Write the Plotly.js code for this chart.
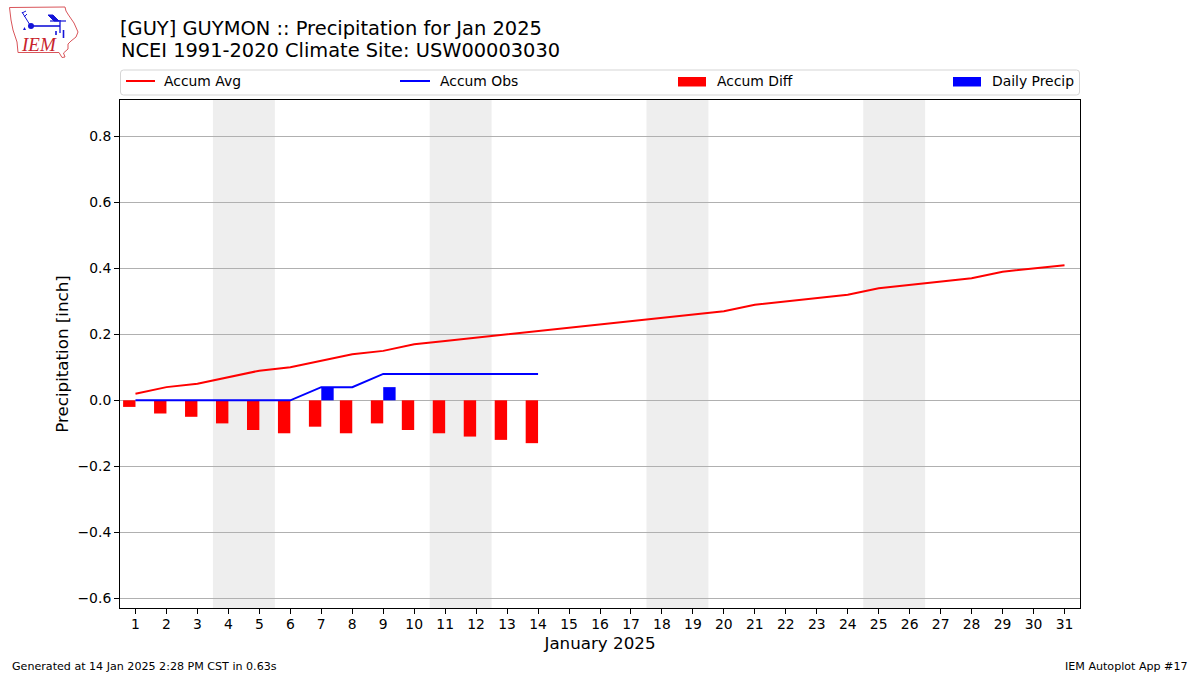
<!DOCTYPE html>
<html>
<head>
<meta charset="utf-8">
<script src="https://cdn.plot.ly/plotly-3.0.1.min.js"></script>
<style>html,body{margin:0;padding:0;background:#fff}</style>
</head>
<body>
<div id="chart" style="width:1200px;height:675px"></div>
<script>
const days = [1,2,3,4,5,6,7,8,9,10,11,12,13,14,15,16,17,18,19,20,21,22,23,24,25,26,27,28,29,30,31];
const obsDays = [1,2,3,4,5,6,7,8,9,10,11,12,13,14];
const accumAvg = [0.02,0.04,0.05,0.07,0.09,0.10,0.12,0.14,0.15,0.17,0.18,0.19,0.20,0.21,0.22,0.23,0.24,0.25,0.26,0.27,0.29,0.30,0.31,0.32,0.34,0.35,0.36,0.37,0.39,0.40,0.41];
const accumObs = [0,0,0,0,0,0,0.04,0.04,0.08,0.08,0.08,0.08,0.08,0.08];
const accumDiff = [-0.02,-0.04,-0.05,-0.07,-0.09,-0.10,-0.08,-0.10,-0.07,-0.09,-0.10,-0.11,-0.12,-0.13];
const dailyPrecip = [0,0,0,0,0,0,0.04,0,0.04,0,0,0,0,0];
const weekends = [[3.5,5.5],[10.5,12.5],[17.5,19.5],[24.5,26.5]];
const yTicks = [-0.6,-0.4,-0.2,0,0.2,0.4,0.6,0.8];
const yTickText = ['\u22120.6','\u22120.4','\u22120.2','0.0','0.2','0.4','0.6','0.8'];
const legendLabels = ['Accum Avg','Accum Obs','Accum Diff','Daily Precip'];
const legendColors = ['#ff0000','#0000ff','#ff0000','#0000ff'];

const FONT = 'DejaVu Sans, sans-serif';
const PX = v => (v-120)/960;       // page px -> paper x
const PY = v => (608-v)/508;       // page px -> paper y

const logoSvg = `<svg xmlns="http://www.w3.org/2000/svg" width="80" height="60" viewBox="0 0 80 60">
<path d="M9.5 7.5 L65 7 L66 11 L68.5 15 L74 23 L78 32 L76 37 L71 41 L68 44 L68 49 L63.5 53 L65 57 L62 57.5 L59 52.5 L18 52.5 L17 42 L13 30 L11 20 Z" fill="none" stroke="#d9555a" stroke-width="1"/>
<g stroke="#1414d8" fill="none">
<path d="M31 26 H60" stroke-width="1.6"/>
<path d="M60 20 V33" stroke-width="1.3"/>
<path d="M50 21 H66" stroke-width="1.2"/>
<path d="M30 25 L22 12" stroke-width="1"/><path d="M22 13 L26 11 M24 17 L27 14" stroke-width="1"/>
<path d="M48 15 L53 15 L59 21 L54 21 Z" fill="#1414d8" stroke-width="1"/>
<path d="M56 31 V35 M63.5 30 V38" stroke-width="1.6"/>
</g>
<circle cx="31" cy="26" r="3" fill="#1414d8"/>
<path d="M23 30 l1.5 -3 l1.5 3 z" fill="#1414d8"/>
</svg>`;

const traces = [
  {type:'scatter', mode:'lines', name:legendLabels[0], x:days, y:accumAvg, line:{color:legendColors[0],width:2}},
  {type:'scatter', mode:'lines', name:legendLabels[1], x:obsDays, y:accumObs, line:{color:legendColors[1],width:2}},
  {type:'bar', name:legendLabels[2], x:obsDays, y:accumDiff, width:0.4, offset:-0.4, marker:{color:legendColors[2],line:{width:0}}},
  {type:'bar', name:legendLabels[3], x:obsDays, y:dailyPrecip, width:0.4, offset:0, marker:{color:legendColors[3],line:{width:0}}}
];

// rounded legend frame
const bx0=PX(120.5), bx1=PX(1079.5), by0=PY(95), by1=PY(70);
const rx=3/960, ry=3/508;
const framePath = `M ${bx0+rx} ${by1} L ${bx1-rx} ${by1} Q ${bx1} ${by1} ${bx1} ${by1-ry} L ${bx1} ${by0+ry} Q ${bx1} ${by0} ${bx1-rx} ${by0} L ${bx0+rx} ${by0} Q ${bx0} ${by0} ${bx0} ${by0+ry} L ${bx0} ${by1-ry} Q ${bx0} ${by1} ${bx0+rx} ${by1} Z`;

const swatches = [
  {type:'line', xref:'paper', yref:'paper', x0:PX(126), x1:PX(155), y0:PY(81), y1:PY(81), line:{color:legendColors[0],width:2}},
  {type:'line', xref:'paper', yref:'paper', x0:PX(400), x1:PX(430), y0:PY(81), y1:PY(81), line:{color:legendColors[1],width:2}},
  {type:'rect', xref:'paper', yref:'paper', x0:PX(678), x1:PX(706), y0:PY(86.5), y1:PY(77), fillcolor:legendColors[2], line:{width:0}},
  {type:'rect', xref:'paper', yref:'paper', x0:PX(953), x1:PX(981), y0:PY(86.5), y1:PY(77), fillcolor:legendColors[3], line:{width:0}}
];
const legendTextX = [163,439,716,991];

const layout = {
  width:1200, height:675, autosize:false,
  margin:{l:120,r:120,t:100,b:67,pad:0},
  paper_bgcolor:'#fff', plot_bgcolor:'#fff',
  font:{family:FONT,size:14,color:'#000'},
  barmode:'overlay',
  hovermode:false,
  showlegend:false,
  title:{text:'[GUY] GUYMON :: Precipitation for Jan 2025', font:{family:FONT,size:19.45,color:'#000'},
         x:0, xanchor:'left', xref:'paper', y:1-28.5/675, yanchor:'middle'},
  xaxis:{range:[0.5,31.5], tickmode:'array', tickvals:days, ticktext:days.map(String), tickangle:0,
         showgrid:false, zeroline:false, showline:true, mirror:true, linecolor:'#000', linewidth:1,
         ticks:'outside', ticklen:5, tickcolor:'#000', tickfont:{size:13.9}, ticklabelstandoff:-2,
         title:{text:'January 2025', font:{size:16.7}, standoff:6}},
  yaxis:{range:[-0.63,0.911], tickmode:'array', tickvals:yTicks, ticktext:yTickText,
         showgrid:true, gridcolor:'#b0b0b0', gridwidth:1, zeroline:false,
         showline:true, mirror:true, linecolor:'#000', linewidth:1,
         ticks:'outside', ticklen:5, tickcolor:'#000', tickfont:{size:13.9},
         title:{text:'Precipitation [inch]', font:{size:16.7}, standoff:4}},
  shapes: weekends.map(w => ({type:'rect', layer:'below', xref:'x', yref:'paper', x0:w[0], x1:w[1], y0:0, y1:1,
            fillcolor:'#eeeeee', line:{width:0}})).concat([
    {type:'path', xref:'paper', yref:'paper', layer:'below', path:framePath, line:{color:'#d5d5d5',width:1}, fillcolor:'#fff'}
  ]).concat(swatches),
  images:[{source:'data:image/svg+xml;utf8,'+encodeURIComponent(logoSvg), xref:'paper', yref:'paper',
           x:PX(0), y:PY(0), sizex:80/960, sizey:60/508, xanchor:'left', yanchor:'top', sizing:'stretch', layer:'above'}],
  annotations:[
    {text:'NCEI 1991-2020 Climate Site: USW00003030', xref:'paper', yref:'paper', x:PX(119.5), y:PY(51),
     xanchor:'left', yanchor:'middle', showarrow:false, borderpad:0, font:{size:19.4}},
    {text:'<i>IEM</i>', xref:'paper', yref:'paper', x:PX(38.5), y:PY(45), xanchor:'center', yanchor:'middle',
     showarrow:false, borderpad:0, font:{family:'Liberation Serif, serif',size:19,color:'#c8232c'}},
    {text:'Generated at 14 Jan 2025 2:28 PM CST in 0.63s', xref:'paper', yref:'paper', x:PX(11), y:PY(666),
     xanchor:'left', yanchor:'middle', showarrow:false, borderpad:0, font:{size:11.1}},
    {text:'IEM Autoplot App #17', xref:'paper', yref:'paper', x:PX(1188.5), y:PY(666),
     xanchor:'right', yanchor:'middle', showarrow:false, borderpad:0, font:{size:11.1}}
  ].concat(legendLabels.map((t,i)=>({text:t, xref:'paper', yref:'paper', x:PX(legendTextX[i]), y:PY(81),
     xanchor:'left', yanchor:'middle', showarrow:false, borderpad:0, font:{size:13.9}})))
};
Plotly.newPlot('chart', traces, layout, {displayModeBar:false, responsive:false});
</script>
</body>
</html>
